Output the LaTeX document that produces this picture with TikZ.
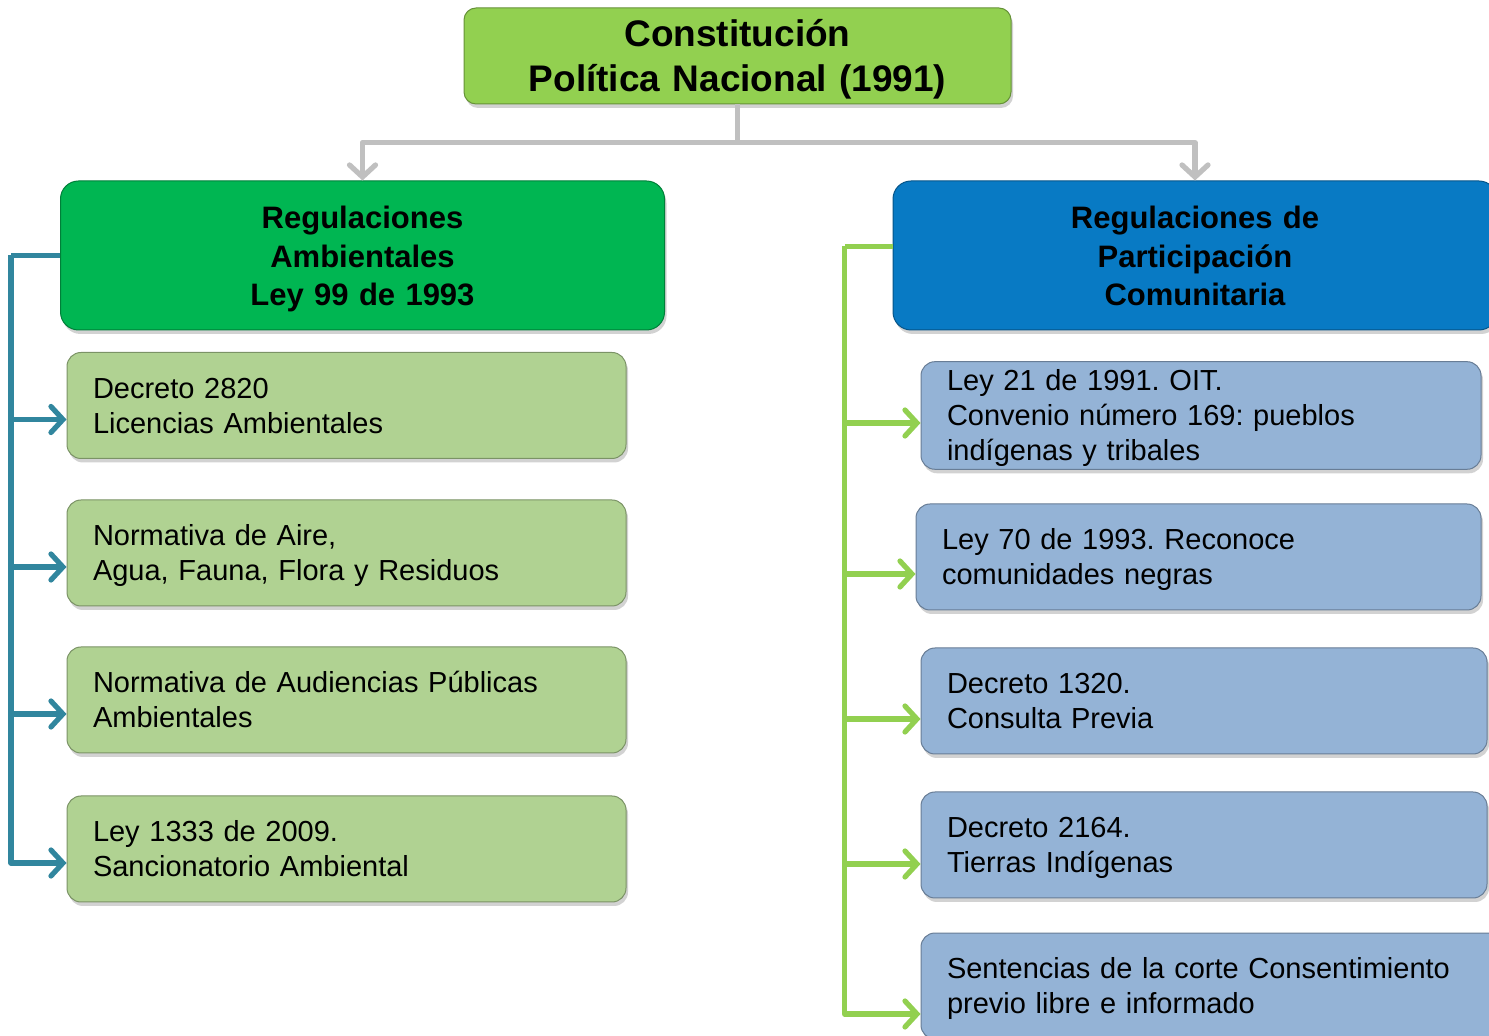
\documentclass[tikz,border=0pt]{standalone}
\usepackage{fontspec}
\setmainfont{Liberation Sans}
\frenchspacing
\usetikzlibrary{arrows.meta,shadows}

\definecolor{topgreen}{RGB}{146,208,80}
\definecolor{headgreen}{RGB}{0,182,82}
\definecolor{headblue}{RGB}{8,122,196}
\definecolor{leafgreen}{RGB}{176,210,146}
\definecolor{leafblue}{RGB}{148,179,214}
\definecolor{tealline}{RGB}{49,134,158}
\definecolor{limeline}{RGB}{146,208,80}
\definecolor{grayline}{RGB}{192,192,192}

\tikzset{
  glossy/.style={rectangle, fill=#1, draw=#1!70!black, line width=0.5pt,
    drop shadow={shadow xshift=1pt, shadow yshift=-2pt, opacity=0.35}},
  lift/.style={execute at begin node={\rule{0pt}{#1}}},
  sink/.style={execute at end node={\rule[-#1]{0pt}{0pt}}},
  titlebox/.style={glossy=topgreen, rounded corners=6pt, minimum width=273.5pt,
    minimum height=48pt, inner ysep=0pt, text width=260pt, align=center,
    lift=17.5pt, sink=4pt, font=\fontsize{18.5}{22.5}\selectfont\bfseries},
  headbox/.style={glossy=#1, rounded corners=9pt, minimum width=302pt, text width=290pt,
    minimum height=74.5pt, align=center, lift=15.3pt, sink=3.4pt,
    font=\fontsize{15.5}{19.25}\selectfont\bfseries},
  leafbox/.style={glossy=#1, rounded corners=7pt, inner xsep=13pt, inner ysep=1pt,
    minimum height=53pt, align=left, lift=13.6pt, sink=3.2pt,
    font=\fontsize{14.5}{17.5}\selectfont},
  bus/.style={line width=2.6pt, line join=round, color=#1},
  feed/.style={bus=#1, -{Straight Barb[length=6pt,width=13pt,line cap=round]}}
}

\begin{document}
\begin{tikzpicture}[x=0.5pt, y=-0.5pt]
    \clip (0,0) rectangle (1489,1036);
    \fill[white] (0,0) rectangle (1489,1036);

    % top of the tree
    \node[titlebox] (cpn) at (737.5,56) {Constitución\\Política Nacional (1991)};

    % the two branches
    \node[headbox=headgreen] (amb) at (362.5,255.5) {Regulaciones\\Ambientales\\Ley 99 de 1993};
    \node[headbox=headblue] (par) at (1195,255.5) {Regulaciones de\\Participación\\Comunitaria};

    % environmental rules
    \node[leafbox=leafgreen, text width=253.5pt] (a1) at (346.5,405.5) {Decreto 2820\\Licencias Ambientales};
    \node[leafbox=leafgreen, text width=253.5pt] (a2) at (346.5,553) {Normativa de Aire,\\Agua, Fauna, Flora y Residuos};
    \node[leafbox=leafgreen, text width=253.5pt] (a3) at (346.5,700) {Normativa de Audiencias Públicas\\Ambientales};
    \node[leafbox=leafgreen, text width=253.5pt] (a4) at (346.5,849) {Ley 1333 de 2009.\\Sancionatorio Ambiental};

    % participation rules
    \node[leafbox=leafblue, text width=254pt, minimum height=52.5pt] (p1) at (1201,415.5) {Ley 21 de 1991. OIT.\\Convenio número 169: pueblos\\indígenas y tribales};
    \node[leafbox=leafblue, text width=256.5pt] (p2) at (1198.5,557) {Ley 70 de 1993. Reconoce\\comunidades negras};
    \node[leafbox=leafblue, text width=257pt] (p3) at (1204,701) {Decreto 1320.\\Consulta Previa};
    \node[leafbox=leafblue, text width=257pt] (p4) at (1204,845) {Decreto 2164.\\Tierras Indígenas};
    \node[leafbox=leafblue, text width=269pt] (p5) at (1216,986) {Sentencias de la corte Consentimiento\\previo libre e informado};

    % gray split
    \draw[bus=grayline] (cpn.south) -- ++(0,38) coordinate (split);
    \draw[feed=grayline] (split) -| (amb.north);
    \draw[feed=grayline] (split) -| (par.north);

    % left bus
    \draw[bus=tealline] (amb.west) -- ++(-49,0) coordinate (lbus);
    \foreach \n/\dy in {a1/-7, a2/-7, a3/-7, a4/-7}
        \draw[feed=tealline] (lbus) |- ([yshift=\dy pt]\n.west);

    % right bus
    \draw[bus=limeline] ([yshift=4.5pt]par.west) -- ++(-48,0) coordinate (rbus);
    \foreach \n/\dy in {p1/-3.75, p2/-8.5, p3/-9, p4/-9.5, p5/-14}
        \draw[feed=limeline] (rbus) |- ([yshift=\dy pt]\n.west);

\end{tikzpicture}
\end{document}
